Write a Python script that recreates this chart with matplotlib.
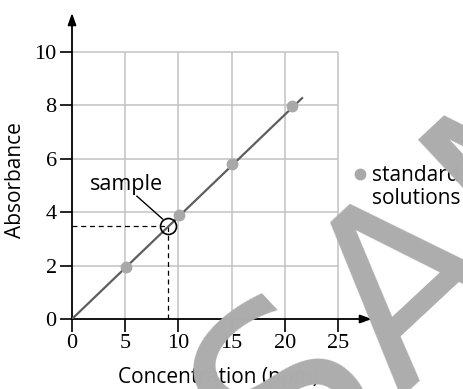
import matplotlib
matplotlib.use("Agg")
from matplotlib import pyplot as plt

plt.rcParams["font.serif"] = ["Liberation Serif", "Times New Roman", "Nimbus Roman",
                              "DejaVu Serif", "FreeSerif", "Noto Serif"]
plt.rcParams["font.sans-serif"] = ["Open Sans", "Noto Sans", "DejaVu Sans"]

# calibration standards (concentration in ppm, absorbance)
conc = [5.05, 10.05, 15.0, 20.7]
absorb = [1.95, 3.9, 5.8, 7.98]

# best-fit line end points
fit_x = [0, 21.7]
fit_y = [0, 8.3]

# unknown sample
sample_x = 9.0
sample_y = 3.5

xticks = [0, 5, 10, 15, 20, 25]
yticks = [0, 2, 4, 6, 8, 10]

grid_col = "#c2c2c2"
dot_col = "#a8a8aa"
line_col = "#5e5e5e"

fig = plt.figure(figsize=(4.64, 3.89), dpi=100)
ax = fig.add_axes([72/464, 70/389, 300/464, 306/389])
ax.set_xlim(0, 28.2)
ax.set_ylim(0, 11.46)

for s in ax.spines.values():
    s.set_visible(False)

# grid only over the 0-25 / 0-10 box
ax.vlines(xticks[1:], 0, 10, color=grid_col, lw=1.1, zorder=1)
ax.hlines(yticks[1:], 0, 25, color=grid_col, lw=1.1, zorder=1)

# axes with arrow heads
arrow = dict(arrowstyle="-|>,head_length=0.7,head_width=0.25", color="black", lw=1.3,
             shrinkA=0, shrinkB=0)
ax.annotate("", xy=(1, 0), xytext=(0, 0), xycoords="axes fraction", arrowprops=arrow)
ax.annotate("", xy=(0, 1), xytext=(0, 0), xycoords="axes fraction", arrowprops=arrow)

ax.set_xticks(xticks)
ax.set_yticks(yticks)
ax.set_xticklabels([str(t) for t in xticks], family="serif", fontsize=16)
ax.set_yticklabels([str(t) for t in yticks], family="serif", fontsize=16)
ax.tick_params(direction="out", length=9, width=1.2, color="black", pad=2)

# fitted line and standards
ax.plot(fit_x, fit_y, color=line_col, lw=1.6, zorder=3, solid_capstyle="butt")
ax.plot(conc, absorb, "o", color=dot_col, ms=7.5, zorder=4)

# sample reading
ax.plot([0, sample_x], [sample_y, sample_y], "--", color="black", lw=0.9, dashes=(4, 3), zorder=2)
ax.plot([sample_x, sample_x], [0, sample_y], "--", color="black", lw=0.9, dashes=(4, 3), zorder=2)
ax.plot(sample_x, sample_y, "o", mfc="none", mec="black", mew=1.2, ms=11.5, zorder=5)
ax.plot([6.1, 8.5], [4.6, 3.75], color="black", lw=1.0, zorder=5)
ax.text(5.1, 5.05, "sample", family="sans-serif", fontsize=15.5, ha="center", va="center")

# key for the standards
ax.plot(27.07, 5.43, "o", color=dot_col, ms=7.5, clip_on=False)
ax.text(28.2, 4.95, "standard\nsolutions", family="sans-serif", fontsize=15, ha="left",
        va="center", linespacing=1.1)

fig.text(16/464, 1 - 180/389, "Absorbance", family="sans-serif", fontsize=15, rotation=90,
         ha="center", va="center")
fig.text(218/464, 1 - 378/389, "Concentration (ppm)", family="sans-serif", fontsize=15,
         ha="center", va="center")

# watermark
fig.text(0.604, -0.275, "SAMPLE", family="DejaVu Sans", fontsize=175, color="#adadad",
         rotation=43, rotation_mode="anchor", ha="left", va="baseline", zorder=10)

fig.savefig("out.png", dpi=100)
